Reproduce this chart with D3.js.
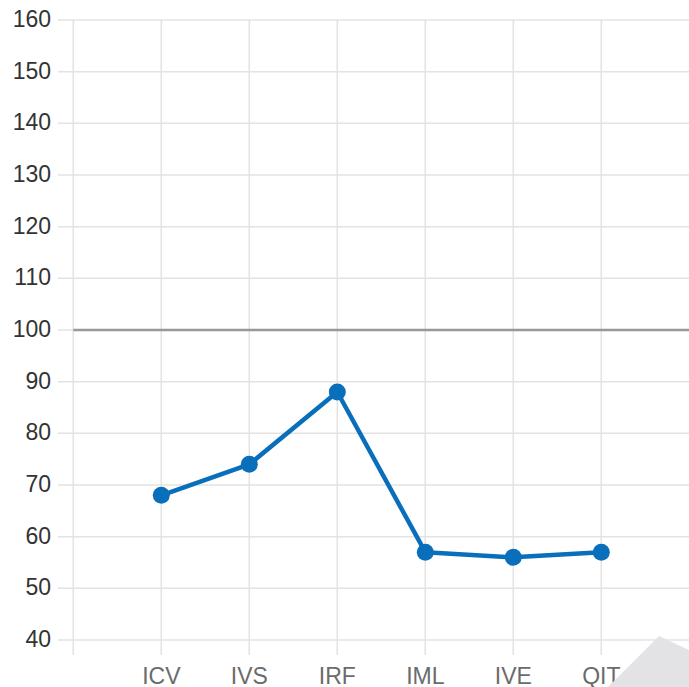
<!DOCTYPE html>
<html>
<head>
<meta charset="utf-8">
<script src="https://cdn.jsdelivr.net/npm/d3@7"></script>
<style>
  body { margin: 0; background: #fff; }
  text { font-family: "Liberation Sans", Arial, sans-serif; }
</style>
</head>
<body>
<div id="chart"></div>
<script>
// Data
var categories = ["ICV", "IVS", "IRF", "IML", "IVE", "QIT"];
var values = [68, 74, 88, 57, 56, 57];
var yTicks = [40, 50, 60, 70, 80, 90, 100, 110, 120, 130, 140, 150, 160];
var refValue = 100;

var svgWidth = 689;
var svgHeight = 687;

var svg = d3.select("#chart")
  .append("svg")
  .attr("width", svgWidth)
  .attr("height", svgHeight);

// padded slots: empty at the start and end
var slots = ["_start"].concat(categories).concat(["_end"]);

var x = d3.scalePoint()
  .domain(slots)
  .range([73.3, 689.3]);

var y = d3.scaleLinear()
  .domain([40, 160])
  .range([640, 20]);

// horizontal grid
svg.append("g")
  .selectAll("line")
  .data(yTicks)
  .enter()
  .append("line")
  .attr("x1", 58)
  .attr("x2", svgWidth)
  .attr("y1", d => y(d))
  .attr("y2", d => y(d))
  .attr("stroke", "#e3e3e3")
  .attr("stroke-width", 1.5);

// vertical grid
svg.append("g")
  .selectAll("line")
  .data(slots.slice(0, 7))
  .enter()
  .append("line")
  .attr("x1", d => x(d))
  .attr("x2", d => x(d))
  .attr("y1", y(160))
  .attr("y2", 655)
  .attr("stroke", "#e3e3e3")
  .attr("stroke-width", 1.5);

// y labels
svg.append("g")
  .selectAll("text")
  .data(yTicks)
  .enter()
  .append("text")
  .attr("x", 51)
  .attr("y", d => y(d))
  .attr("dy", "0.3em")
  .attr("text-anchor", "end")
  .attr("font-size", "23px")
  .attr("fill", "#333")
  .text(d => d);

// x labels
svg.append("g")
  .selectAll("text")
  .data(categories)
  .enter()
  .append("text")
  .attr("x", d => x(d))
  .attr("y", 684)
  .attr("text-anchor", "middle")
  .attr("font-size", "23px")
  .attr("fill", "#6b6b6b")
  .text(d => d);

// reference line at 100
svg.append("line")
  .attr("x1", x("_start"))
  .attr("x2", svgWidth)
  .attr("y1", y(refValue))
  .attr("y2", y(refValue))
  .attr("stroke", "#999")
  .attr("stroke-width", 2.5);

// series line
var line = d3.line()
  .x((d, i) => x(categories[i]))
  .y(d => y(d));

svg.append("path")
  .datum(values)
  .attr("d", line)
  .attr("fill", "none")
  .attr("stroke", "#0a6fba")
  .attr("stroke-width", 4.5)
  .attr("stroke-linejoin", "round");

svg.append("g")
  .selectAll("circle")
  .data(values)
  .enter()
  .append("circle")
  .attr("cx", (d, i) => x(categories[i]))
  .attr("cy", d => y(d))
  .attr("r", 8.5)
  .attr("fill", "#0a6fba");

// grey corner triangle bottom right
svg.append("polygon")
  .attr("points", "659,636 608,687 689,687 689,650")
  .attr("fill", "#e3e3e5");
</script>
</body>
</html>
